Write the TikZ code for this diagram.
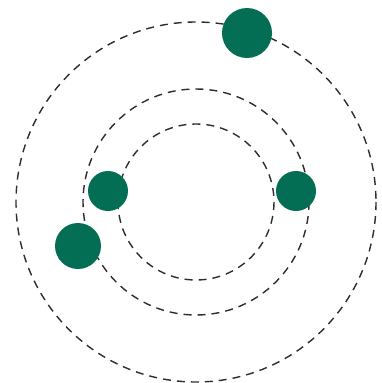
\documentclass[tikz,border=0pt]{standalone}
\definecolor{dotgreen}{RGB}{4,110,85}
\definecolor{orbitgray}{RGB}{45,45,45}
\tikzset{
  orbit/.style={draw=orbitgray, line width=1.4pt, dash pattern=on 8pt off 6pt},
  planet/.style={circle, fill=dotgreen, draw=none, inner sep=0pt},
}
\begin{document}
\begin{tikzpicture}[x=1pt,y=-1pt]
\useasboundingbox (0,0) rectangle (382,383);
\coordinate (c) at (196,202);
\draw[orbit] (c) circle[radius=180];
\draw[orbit] (c) circle[radius=113];
\draw[orbit] (c) circle[radius=78];
\node[planet, minimum size=50pt] (p1) at (247,33) {};
\node[planet, minimum size=40pt] (p2) at (108,191) {};
\node[planet, minimum size=40pt] (p3) at (296,191) {};
\node[planet, minimum size=46pt] (p4) at (78,246) {};
\end{tikzpicture}
\end{document}
